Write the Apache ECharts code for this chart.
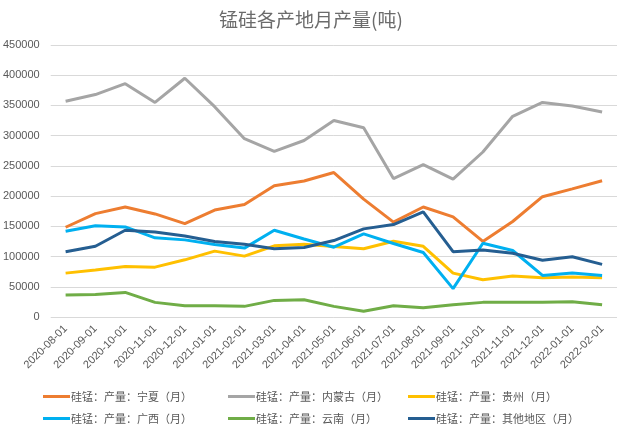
<!DOCTYPE html>
<html><head><meta charset="utf-8">
<script src="https://cdn.jsdelivr.net/npm/echarts@6/dist/echarts.min.js"></script>
<style>html,body{margin:0;padding:0;background:#fff}#c{width:622px;height:432px}</style>
</head><body><div id="c"></div>
<script>
const categories = ['2020-08-01','2020-09-01','2020-10-01','2020-11-01','2020-12-01','2021-01-01','2021-02-01','2021-03-01','2021-04-01','2021-05-01','2021-06-01','2021-07-01','2021-08-01','2021-09-01','2021-10-01','2021-11-01','2021-12-01','2022-01-01','2022-02-01'];
const ningxia = [148500,171000,182000,170500,154600,177000,186000,217000,225000,239000,195000,157000,182000,165600,125000,158000,199000,212000,225500];
const neimenggu = [357000,368000,386000,355000,395000,348000,295000,274000,292000,325000,313000,229000,252000,228000,273000,332000,355000,349000,339000];
const guizhou = [72600,77600,83600,82500,94600,109000,100700,117700,120500,116600,113000,125400,117000,72600,61600,67700,65000,66000,65000];
const guangxi = [142000,151000,149000,131000,127600,120000,114000,143600,129000,115500,137500,121600,106700,47000,122000,110000,68800,72600,68800];
const yunnan = [36300,37400,40700,24200,18700,18700,17600,27500,28600,17600,9400,18700,15400,20400,24200,24200,24200,25300,20400];
const others = [108000,117000,143600,140800,134000,125000,120500,112800,115000,126500,145800,153000,174000,108000,111000,105600,94000,99600,87000];
const seriesNames = ['硅锰：产量：宁夏（月）','硅锰：产量：内蒙古（月）','硅锰：产量：贵州（月）','硅锰：产量：广西（月）','硅锰：产量：云南（月）','硅锰：产量：其他地区（月）'];
const seriesData = [ningxia, neimenggu, guizhou, guangxi, yunnan, others];
const colors = ['#ED7D31','#A5A5A5','#FFC000','#00B0F0','#70AD47','#255E91'];

const legendPos = [[43,391],[228,391],[408,391],[43,413],[228,413],[408,413]];
const chart = echarts.init(document.getElementById('c'));
chart.setOption({
  animation:false,
  color: colors,
  title:{text:'锰硅各产地月产量(吨)',left:'center',top:5,textStyle:{fontSize:19,fontWeight:'normal',color:'#6b6b6b',fontFamily:'"Noto Sans CJK SC"'}},
  grid:{left:50,right:5,top:45,bottom:115},
  legend: seriesNames.map((n,i)=>({data:[n],left:legendPos[i][0],top:legendPos[i][1],itemWidth:27,itemHeight:3,itemGap:0,icon:'rect',
    textStyle:{fontSize:11,color:'#595959',fontFamily:'"Noto Sans CJK SC"',padding:[0,0,0,-4]},padding:0})),
  xAxis:{type:'category',data:categories,boundaryGap:true,
    axisLine:{show:false},axisTick:{show:false},
    axisLabel:{rotate:45,fontSize:11,color:'#595959',margin:10,interval:0,fontFamily:'"Liberation Sans"'}},
  yAxis:{type:'value',min:0,max:450000,interval:50000,
    axisLabel:{fontSize:11,color:'#595959',margin:11,fontFamily:'"Liberation Sans"',formatter:v=>String(v)},
    splitLine:{lineStyle:{color:'#D9D9D9',width:1}}},
  series: seriesNames.map((n,i)=>({name:n,type:'line',data:seriesData[i],symbol:'none',lineStyle:{width:3,color:colors[i]},itemStyle:{color:colors[i]}}))
});
</script></body></html>
